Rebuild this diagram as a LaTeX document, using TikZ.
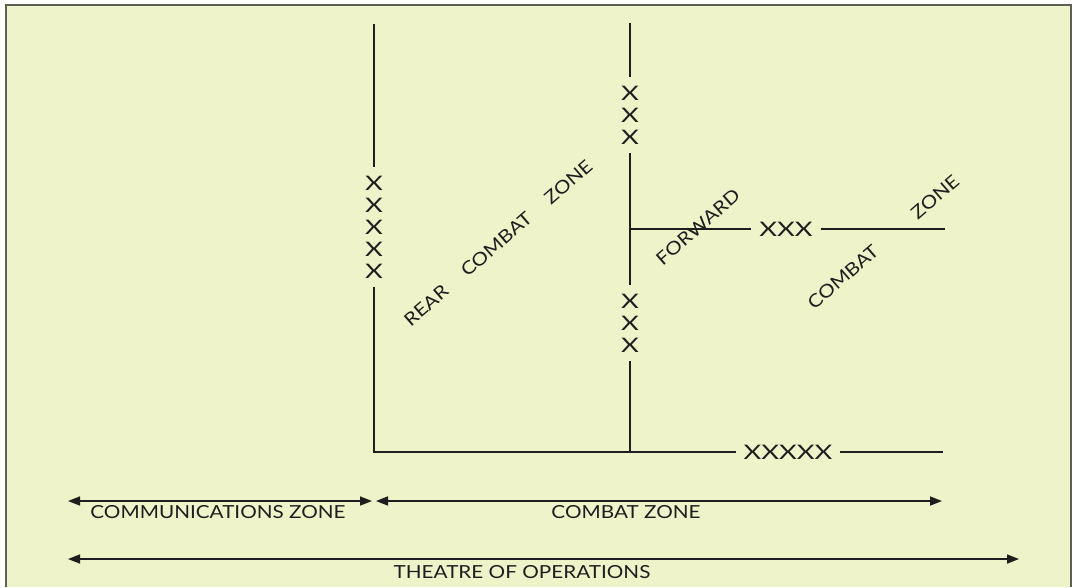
\documentclass[tikz,border=0pt]{standalone}
\usepackage{fontspec}
\setmainfont{Lato}[FakeStretch=1.15]
\newfontfamily\xfont{Lato}[FakeStretch=1.37]
\usetikzlibrary{arrows.meta}
\definecolor{bg}{HTML}{EEF3C9}
\definecolor{ink}{HTML}{1E1E1E}
\definecolor{framec}{HTML}{5F5F55}
\begin{document}
\begin{tikzpicture}[x=1pt,y=-1pt,line width=2pt,draw=ink,
  lbl/.style={font=\fontsize{18}{18}\selectfont,inner sep=0pt,text=ink},
  diag/.style={font=\fontsize{18}{18}\selectfont,inner sep=0pt,text=ink,rotate=41},
  xstack/.style={font=\xfont\fontsize{20}{22}\selectfont,align=center,inner xsep=0pt,inner ysep=8pt,text=ink},
  xrow/.style={font=\xfont\fontsize{20}{20}\selectfont,inner xsep=7pt,inner ysep=0pt,text=ink},
  span/.style={{Triangle[length=12pt,width=9pt]}-{Triangle[length=12pt,width=9pt]},line width=1.6pt}]
\useasboundingbox (0,0) rectangle (1075,587);
\fill[bg] (6,5) rectangle (1071,587);
\draw[framec,line width=2pt] (6,587) -- (6,5) -- (1071,5) -- (1071,587);
% left boundary
\coordinate (L1) at (374,24);
\node[xstack] (LX) at (374,227) {X\\X\\X\\X\\X};
\coordinate (LC) at (374,452);
% middle boundary
\coordinate (M1) at (630,23);
\node[xstack] (MX1) at (630,115) {X\\X\\X};
\coordinate (MJ) at (630,229);
\node[xstack] (MX2) at (630,323) {X\\X\\X};
\coordinate (MB) at (630,452);
% horizontal boundaries
\node[xrow] (HX) at (786,229) {XXX};
\coordinate (HE) at (945,229);
\node[xrow] (BX) at (788,452) {XXXXX};
\coordinate (BE) at (943,452);
\draw (L1) -- (LX.north);
\draw (LX.south) -- (LC) -- (BX.west);
\draw (BX.east) -- (BE);
\draw (M1) -- (MX1.north);
\draw (MX1.south) -- (MJ) -- (MX2.north);
\draw (MX2.south) -- (MB);
\draw (MJ) -- (HX.west);
\draw (HX.east) -- (HE);
% diagonal labels
\node[diag] (rcz) at (498,243) {REAR\hspace{1.3em}COMBAT\hspace{1.3em}ZONE};
\node[diag] (fwd) at (698,227) {FORWARD};
\node[diag] (cmb) at (843,277) {COMBAT};
\node[diag] (zn) at (935,197) {ZONE};
% spans
\coordinate (A1) at (68,501);
\coordinate (A2) at (372,501);
\coordinate (A3) at (376,501);
\coordinate (A4) at (942,501);
\coordinate (T1) at (68,559);
\coordinate (T2) at (1019,559);
\draw[span] (A1) -- (A2);
\draw[span] (A3) -- (A4);
\draw[span] (T1) -- (T2);
\node[lbl] (comz) at (218,512) {COMMUNICATIONS ZONE};
\node[lbl] (cz) at (626,512) {COMBAT ZONE};
\node[lbl] (th) at (522,572) {THEATRE OF OPERATIONS};
\end{tikzpicture}
\end{document}
